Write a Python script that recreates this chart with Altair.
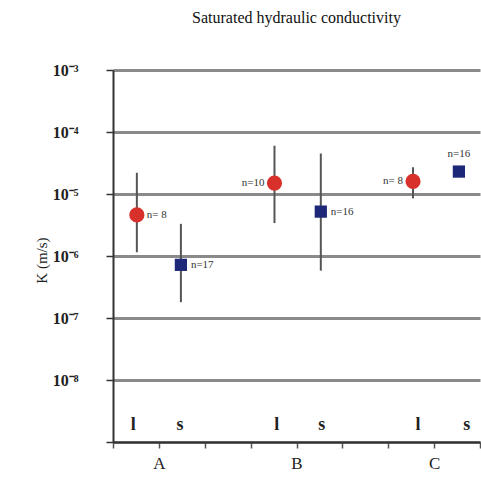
import altair as alt
import pandas as pd

# data
groups = ["A", "A", "B", "B", "C", "C"]
kinds = ["l", "s", "l", "s", "l", "s"]
xpos = [0.52, 1.48, 3.52, 4.53, 6.54, 7.54]
k_mean = [4.6e-6, 7.2e-7, 1.5e-5, 5.2e-6, 1.6e-5, 2.3e-5]
k_low = [1.15e-6, 1.8e-7, 3.4e-6, 5.8e-7, 8.5e-6, 2.3e-5]
k_high = [2.2e-5, 3.3e-6, 6.0e-5, 4.5e-5, 2.7e-5, 2.3e-5]
n_labels = ["n= 8", "n=17", "n=10", "n=16", "n= 8", "n=16"]
label_dx = [10, 10, -10, 10, -10, 0]
label_dy = [0, 0, 0, 0, 0, -18]
label_align = ["left", "left", "right", "left", "right", "center"]

cat_pos = [1, 4, 7]
cat_names = ["A", "B", "C"]
ls_text = ["l", "s", "l", "s", "l", "s"]
ls_x = [0.44, 1.46, 3.57, 4.55, 6.65, 7.71]
ls_y = 1.9e-9

y_ticks = [1e-3, 1e-4, 1e-5, 1e-6, 1e-7, 1e-8, 1e-9]
y_tick_labels = ["10⁻³", "10⁻⁴", "10⁻⁵", "10⁻⁶", "10⁻⁷", "10⁻⁸", ""]

df = pd.DataFrame({
    "group": groups, "kind": kinds, "x": xpos, "k": k_mean,
    "lo": k_low, "hi": k_high, "n": n_labels,
    "dx": label_dx, "dy": label_dy, "align": label_align,
})
df_ls = pd.DataFrame({"t": ls_text, "x": ls_x, "y": [ls_y] * len(ls_text)})

SERIF = "Liberation Serif"

ylab_expr = "[" + ",".join(f"'{l}'" for l in y_tick_labels) + \
    "][-3 - round(log(datum.value) / LN10)]"
xlab_expr = "{" + ",".join(f"'{p}':'{n}'" for p, n in zip(cat_pos, cat_names)) + "}[datum.value] || ''"

xscale = alt.Scale(domain=[0, 8], nice=False, zero=False)
yscale = alt.Scale(type="log", domain=[1e-9, 1e-3], nice=False)

xaxis = alt.Axis(
    values=list(range(0, 9)), labelExpr=xlab_expr, grid=False, title=None,
    domainColor="#333", domainWidth=2, tickColor="#555", tickSize=6, tickWidth=1.5,
    labelFont=SERIF, labelFontSize=17, labelColor="#222", labelPadding=7,
)
yaxis = alt.Axis(
    values=y_ticks, labelExpr=ylab_expr, grid=True, gridColor="#8a8a8a",
    gridWidth=3, domainColor="#333", domainWidth=2, tickColor="#333",
    tickSize=7, tickWidth=1.5, labelFont=SERIF, labelFontSize=16,
    labelFontWeight="bold", labelColor="#222", labelPadding=28,
    title="K (m/s)", titleFont=SERIF,
    titleFontSize=15, titleFontWeight="normal", titleColor="#222",
    titleX=-72, titleY=190, titleAngle=-90, titleAlign="center",
    titleBaseline="middle",
)

base = alt.Chart(df)

bars = base.mark_rule(color="#555", strokeWidth=2).encode(
    x=alt.X("x:Q", scale=xscale, axis=xaxis),
    y=alt.Y("lo:Q", scale=yscale, axis=yaxis),
    y2="hi:Q",
)

pts = base.mark_point(filled=True, opacity=1, strokeWidth=1.2).encode(
    x=alt.X("x:Q", scale=xscale),
    y=alt.Y("k:Q", scale=yscale),
    shape=alt.Shape("kind:N", scale=alt.Scale(domain=["l", "s"], range=["circle", "square"]), legend=None),
    color=alt.Color("kind:N", scale=alt.Scale(domain=["l", "s"], range=["#d8312c", "#1e2878"]), legend=None),
    size=alt.Size("kind:N", scale=alt.Scale(domain=["l", "s"], range=[230, 150]), legend=None),
)

def nlabel(align, dx, dy):
    sub = base.transform_filter(
        (alt.datum.align == align) & (alt.datum.dx == dx) & (alt.datum.dy == dy))
    return sub.mark_text(font=SERIF, fontSize=11, color="#333", align=align,
                         baseline="middle", dx=dx, dy=dy).encode(
        x=alt.X("x:Q", scale=xscale), y=alt.Y("k:Q", scale=yscale), text="n:N")

combos = sorted(set(zip(label_align, label_dx, label_dy)))
nlayers = [nlabel(a, dx, dy) for a, dx, dy in combos]

ls = alt.Chart(df_ls).mark_text(font=SERIF, fontSize=18, fontWeight="bold",
                                 color="#222", baseline="middle").encode(
    x=alt.X("x:Q", scale=xscale), y=alt.Y("y:Q", scale=yscale), text="t:N")

chart = alt.layer(bars, pts, *nlayers, ls).properties(
    width=367, height=372,
    padding={"left": 113, "top": 70, "right": 1, "bottom": 42},
    autosize=alt.AutoSizeParams(type="none"),
    title=alt.TitleParams("Saturated hydraulic conductivity", font=SERIF,
                          fontSize=16, fontWeight="normal", color="#111",
                          offset=36),
).configure_view(stroke=None)

chart.save("out.html", embed_options={"renderer": "svg", "actions": False})
